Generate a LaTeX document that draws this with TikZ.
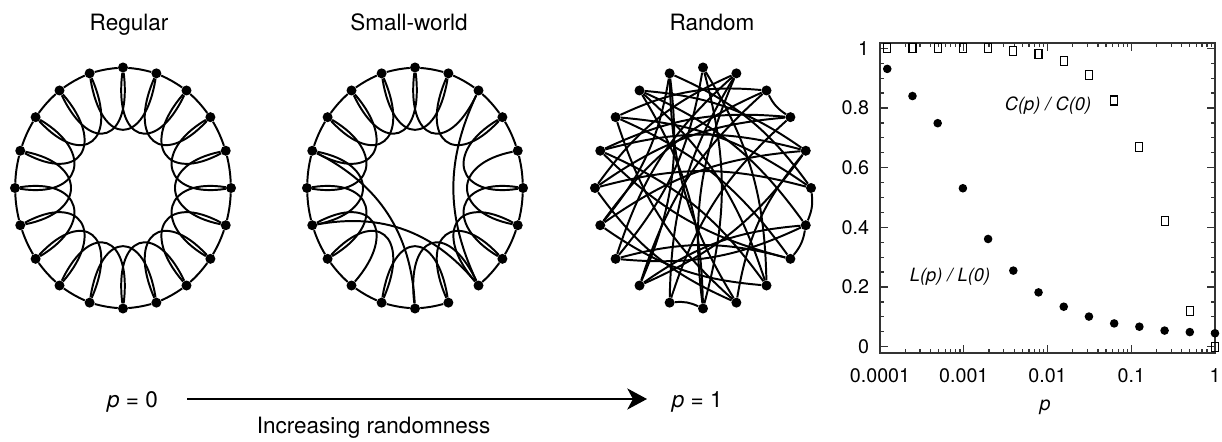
\documentclass[tikz,border=0pt]{standalone}
\usepackage{fontspec}
\setmainfont{TeX Gyre Heros}
\usetikzlibrary{arrows.meta}
\tikzset{
  vertex/.style={circle,fill=black,inner sep=0pt,minimum size=0.25cm},
  link/.style={line width=1.4pt},
  title/.style={font=\fontsize{16}{19}\selectfont,anchor=base},
  ticklab/.style={font=\fontsize{14}{17}\selectfont},
  curvelab/.style={font=\fontsize{13}{16}\selectfont\itshape},
  tick/.style={line width=0.9pt,black!80},
}
\begin{document}
\begin{tikzpicture}[x=0.025cm,y=0.025cm,
    arr/.style={-{Stealth[length=14pt,width=15pt,inset=4pt]},line width=1.4pt},
  ]
  \useasboundingbox (0,0) rectangle (1222,441);

  % titles
  \node[title] (tReg) at (129,410) {Regular};
  \node[title] (tSw) at (409,410) {Small-world};
  \node[title] (tRnd) at (712,410) {Random};

  % regular ring
  \begin{scope}[shift={(123,253)},x=2.7cm,y=3.0125cm]
    \foreach \k in {0,...,19} \node[vertex] (reg\k) at (18*\k:1) {};
    \foreach \k in {0,...,19} {
      \pgfmathtruncatemacro\n{mod(\k+1,20)}
      \pgfmathtruncatemacro\m{mod(\k+2,20)}
      \draw[link] (reg\k) to[bend right=5] (reg\n);
      \draw[link] (reg\k) .. controls +(18*\k+188:0.62) and +(18*\k+208:0.62) .. (reg\m);
    }
  \end{scope}

  % small-world ring
  \begin{scope}[shift={(415,253)},x=2.7cm,y=3.0125cm]
    \foreach \k in {0,...,19} \node[vertex] (sw\k) at (18*\k:1) {};
    \foreach \k in {0,...,19} {
      \pgfmathtruncatemacro\n{mod(\k+1,20)}
      \pgfmathtruncatemacro\m{mod(\k+2,20)}
      \ifnum\k=16 \else \draw[link] (sw\k) to[bend right=5] (sw\n); \fi
      \ifnum\k=13 \else\ifnum\k=1 \else
        \draw[link] (sw\k) .. controls +(18*\k+188:0.62) and +(18*\k+208:0.62) .. (sw\m);
      \fi\fi
    }
    % rewired links
    \draw[link] (sw9) to[bend left=30] (sw15);
    \draw[link] (sw11) to[bend left=30] (sw17);
    \draw[link] (sw3) to[bend right=25] (sw17);
  \end{scope}

  % random graph
  \begin{scope}[shift={(703,253)},x=2.7cm,y=3.0125cm]
    \foreach \k in {0,...,19} \node[vertex] (rnd\k) at (18*\k:1) {};
    \foreach \a/\b in {2/3,0/19,19/18,14/15,5/12,5/17,6/13,6/0,7/15,7/19,
        7/1,8/18,8/0,8/3,9/1,9/2,9/17,10/0,10/4,11/3,11/1,12/4,12/18,13/3,
        14/4,14/2,15/4,16/6,16/10,16/8,17/11,18/9,19/12,1/13,5/15,6/11,
        10/2,13/19,16/1,7/17}
      \draw[link] (rnd\a) to[bend left=15] (rnd\b);
  \end{scope}

  % randomness axis
  \node[title] (p0) at (132.5,34) {\textit{p} = 0};
  \node[title,anchor=base west] (p1) at (667,34) {\textit{p} = 1};
  \coordinate (arrS) at (187,42);
  \coordinate (arrE) at (647,42);
  \draw[arr] (arrS) -- (arrE);
  \node[title] (incr) at (373.5,8) {Increasing randomness};

  % plot frame and ticks
  \draw[line width=1.2pt,black!80] (880,88.3) rectangle (1215,398.3);
  \foreach \j in {-4,...,-1} \foreach \m in {1,...,9} {
    \pgfmathsetmacro\xt{880+83.75*(\j+4+log10(\m))}
    \pgfmathsetmacro\tl{ifthenelse(\m==1,8,4)}
    \draw[tick] (\xt,88.3) -- ++(0,\tl);
    \draw[tick] (\xt,398.3) -- ++(0,-\tl);
  }
  \foreach \i in {0,...,20} {
    \pgfmathsetmacro\yt{94.3+298.4*\i/20}
    \pgfmathsetmacro\tl{ifthenelse(mod(\i,4)==0,8,4)}
    \draw[tick] (880,\yt) -- ++(\tl,0);
    \draw[tick] (1215,\yt) -- ++(-\tl,0);
  }
  \foreach \v [count=\i] in {0,0.2,0.4,0.6,0.8,1}
    \node[ticklab,anchor=east] (yl\i) at (874,94.3+298.4*\v) {\v};
  \foreach \j/\s [count=\i] in {-4/0.0001,-3/0.001,-2/0.01,-1/0.1,0/1}
    \node[ticklab,anchor=base] (xl\i) at (880+83.75*\j+335,59) {\s};
  \node[ticklab,anchor=base,font=\fontsize{14}{17}\selectfont\itshape] (pLab) at (1045,31) {p};

  % data: C(p)/C(0) squares, L(p)/L(0) dots
  \foreach \k/\cv/\lv in {13/1.0/0.931,12/1.0/0.840,11/1.0/0.749,10/1.0/0.531,
      9/1.0/0.361,8/0.992/0.255,7/0.981/0.182,6/0.958/0.134,5/0.91/0.101,
      4/0.825/0.078,3/0.668/0.067,2/0.422/0.054,1/0.12/0.049,0/0.0/0.045} {
    \pgfmathsetmacro\xd{880+83.75*(4-0.30103*\k)}
    \pgfmathsetmacro\yc{94.3+298.4*\cv}
    \pgfmathsetmacro\yd{94.3+298.4*\lv}
    \draw[line width=0.8pt] (\xd-3.5,\yc-4.5) rectangle (\xd+3.5,\yc+4.5);
    \fill (\xd,\yd) circle[radius=4.3];
  }
  \node[curvelab] (cLab) at (1048,335) {C(p) / C(0)};
  \node[curvelab] (lLab) at (950,164) {L(p) / L(0)};
\end{tikzpicture}
\end{document}
